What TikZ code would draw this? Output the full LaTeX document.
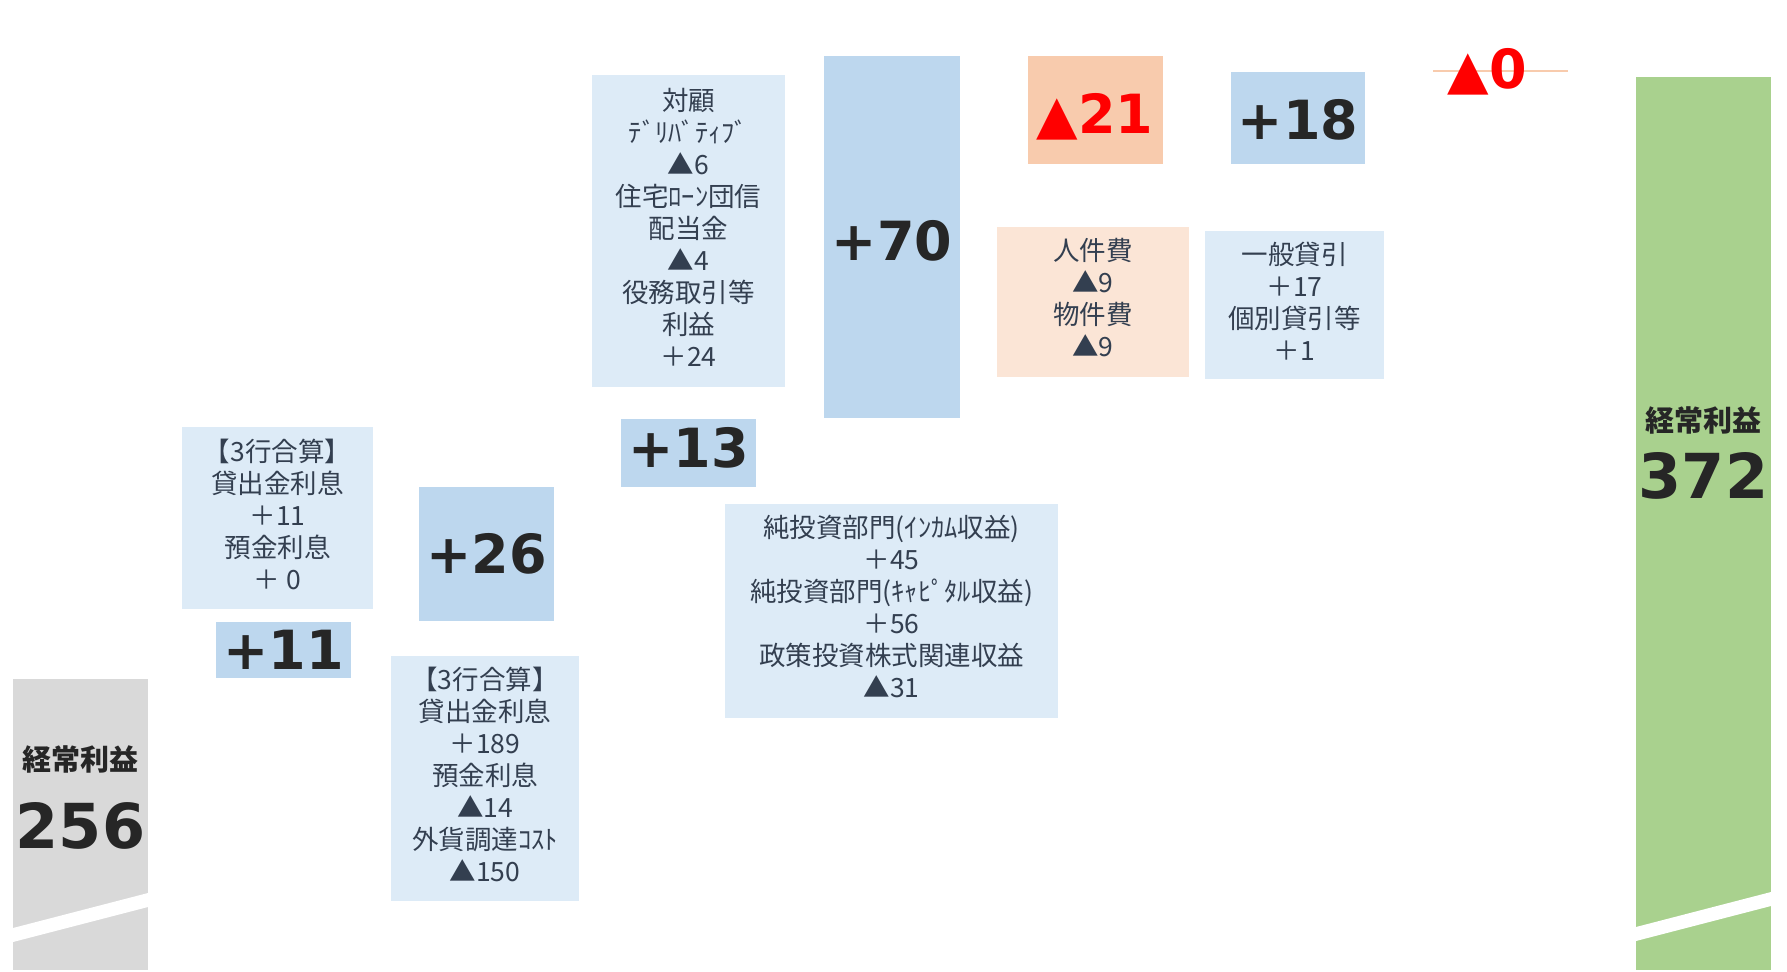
\documentclass[tikz,border=0pt]{standalone}
\usepackage{fontspec}
\newfontfamily\jpf{Noto Sans CJK JP}
\newfontfamily\dvs{DejaVu Sans}
\definecolor{cblue}{HTML}{BDD7EE}
\definecolor{ctxtblue}{HTML}{DDEBF7}
\definecolor{corange}{HTML}{F8CBAD}
\definecolor{ctxtorange}{HTML}{FBE5D6}
\definecolor{cgray}{HTML}{D9D9D9}
\definecolor{cgreen}{HTML}{A9D18E}
\definecolor{cdark}{HTML}{333F50}
\definecolor{cbig}{HTML}{262626}
\definecolor{cred}{HTML}{FF0000}
\newcommand\bignumfont{\dvs\bfseries\fontsize{54bp}{60bp}\selectfont}
\newcommand\notefont{\jpf\fontsize{26.5bp}{32bp}\selectfont}
\tikzset{
  barbox/.style={fill=cblue, inner sep=0pt},
  bignum/.style={inner sep=0pt, text=cbig, font=\bignumfont},
  notebox/.style={fill=ctxtblue, inner sep=0pt},
  notetext/.style={inner sep=0pt, align=center, text=cdark, font=\notefont, yshift=4bp},
  totlabel/.style={inner sep=0pt, text=cbig, font=\jpf\bfseries\fontsize{29bp}{32bp}\selectfont},
  totnum/.style={inner sep=0pt, text=cbig, font=\dvs\bfseries\fontsize{62bp}{66bp}\selectfont},
}
\begin{document}
\begin{tikzpicture}[x=1bp,y=-1bp]
\useasboundingbox (0,0) rectangle (1787,971);
\fill[white] (0,0) rectangle (1787,971);
% start bar
\fill[cgray] (13,679) rectangle (148,970);
\fill[white] (13,928) -- (148,893) -- (148,907) -- (13,942) -- cycle;
\node[totlabel] (l256) at (80.5,759) {経常利益};
\node[totnum] (n256) at (80.5,826) {256};
% end bar
\fill[cgreen] (1636,77) rectangle (1771,970);
\fill[white] (1636,927) -- (1771,892) -- (1771,906) -- (1636,941) -- cycle;
\node[totlabel] (l372) at (1703.5,420) {経常利益};
\node[totnum] (n372) at (1703.5,476) {372};
% +11
\node[notebox, minimum width=191bp, minimum height=182bp,
  label={[notetext]center:{【3行合算】\\貸出金利息\\＋11\\預金利息\\＋ 0}}] (t11) at (277.5,518) {};
\node[barbox, minimum width=135bp, minimum height=56bp,
  label={[bignum]center:+11}] (b11) at (283.5,650) {};
% +26
\node[barbox, minimum width=135bp, minimum height=134bp,
  label={[bignum]center:+26}] (b26) at (486.5,554) {};
\node[notebox, minimum width=188bp, minimum height=245bp,
  label={[notetext]center:{【3行合算】\\貸出金利息\\＋189\\預金利息\\▲14\\外貨調達ｺｽﾄ\\▲150}}] (t26) at (485,778.5) {};
% +13
\node[notebox, minimum width=193bp, minimum height=312bp,
  label={[notetext]center:{対顧\\ﾃﾞﾘﾊﾞﾃｨﾌﾞ\\▲6\\住宅ﾛｰﾝ団信\\配当金\\▲4\\役務取引等\\利益\\＋24}}] (t13) at (688.5,231) {};
\node[barbox, minimum width=135bp, minimum height=68bp,
  label={[bignum, yshift=5bp]center:+13}] (b13) at (688.5,453) {};
% +70
\node[barbox, minimum width=136bp, minimum height=362bp,
  label={[bignum, yshift=-4bp]center:+70}] (b70) at (892,237) {};
\node[notebox, minimum width=333bp, minimum height=214bp,
  label={[notetext]center:{純投資部門(ｲﾝｶﾑ収益)\\＋45\\純投資部門(ｷｬﾋﾟﾀﾙ収益)\\＋56\\政策投資株式関連収益\\▲31}}] (t70) at (891.5,611) {};
% -21
\node[barbox, fill=corange, minimum width=135bp, minimum height=108bp,
  label={[bignum, text=cred, yshift=-7bp]center:▲21}] (b21) at (1095,110) {};
\node[notebox, fill=ctxtorange, minimum width=192bp, minimum height=150bp,
  label={[notetext]center:{人件費\\▲9\\物件費\\▲9}}] (t21) at (1093,302) {};
% +18
\node[barbox, minimum width=134bp, minimum height=92bp,
  label={[bignum, yshift=-2bp]center:+18}] (b18) at (1298,118) {};
\node[notebox, minimum width=179bp, minimum height=148bp,
  label={[notetext]center:{一般貸引\\＋17\\個別貸引等\\＋1}}] (t18) at (1294.5,305) {};
% 0
\coordinate (z0a) at (1433,71);
\coordinate (z0b) at (1568,71);
\draw[corange, line width=1.5bp] (z0a) -- (z0b);
\node[bignum, text=cred] (n0) at (1487.5,72) {▲0};
\end{tikzpicture}
\end{document}
